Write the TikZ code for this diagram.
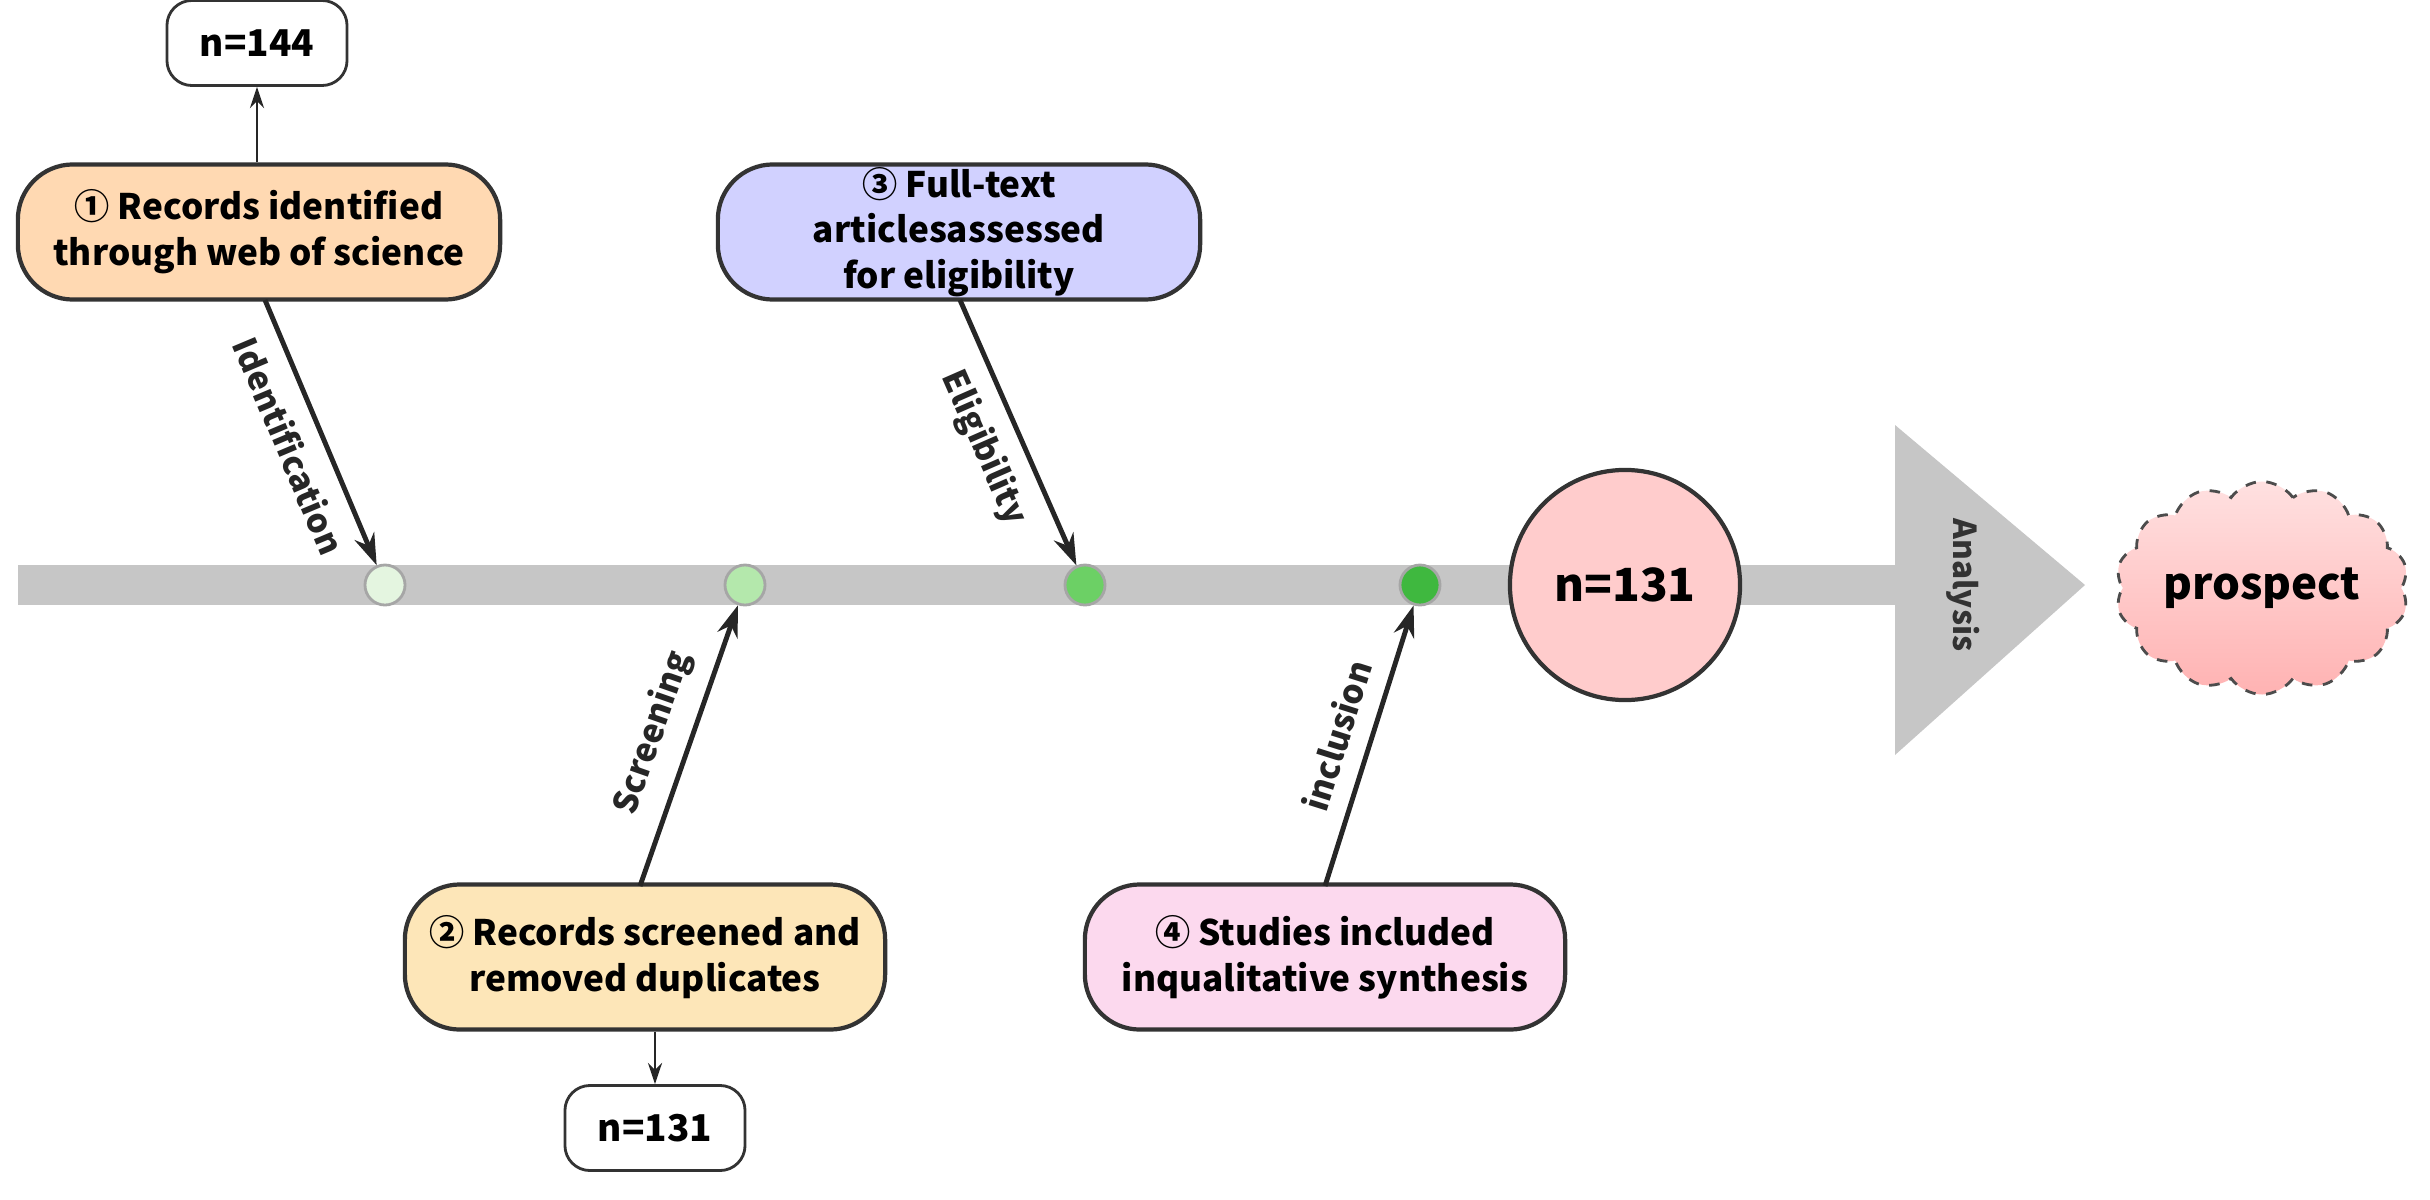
\documentclass[tikz,border=0pt]{standalone}
\usepackage{fontspec}
\setmainfont{Noto Sans CJK SC}
\usetikzlibrary{shapes.symbols,arrows.meta}
\definecolor{g1}{HTML}{E4F5E0}
\definecolor{g2}{HTML}{B4E8AC}
\definecolor{g3}{HTML}{6CD065}
\definecolor{g4}{HTML}{3FB83F}
\begin{document}
\begin{tikzpicture}[x=0.01cm,y=-0.01cm,
  box/.style={draw=black!80,line width=1.2pt,rounded corners=0.55cm,align=center,font=\fontsize{10}{13}\selectfont\bfseries,inner sep=0pt},
  nbox/.style={draw=black!80,line width=0.8pt,rounded corners=0.25cm,fill=white,font=\fontsize{10.5}{13}\selectfont\bfseries,minimum width=1.8cm,minimum height=0.85cm},
  dot/.style={circle,draw=gray!70,line width=0.8pt,minimum size=0.4cm,inner sep=0pt},
  arr/.style={-{Stealth[length=9pt,width=6pt]},line width=1.4pt,black!85},
  sarr/.style={-{Stealth[length=6pt,width=4pt]},line width=0.8pt,black!85},
  lab/.style={font=\fontsize{9.5}{11}\selectfont\bfseries,sloped,midway,inner sep=5pt}]
\useasboundingbox (0,0) rectangle (2430,1200);
% bar
\fill[gray!45] (18,565) rectangle (1905,605);
\fill[gray!45] (1895,425) -- (2085,585) -- (1895,755) -- cycle;
\node[rotate=-90,font=\fontsize{9}{11}\selectfont\bfseries,text=black!80] (an) at (1963,585) {Analysis};
% dots
\node[dot,fill=g1] (d1) at (385,585) {};
\node[dot,fill=g2] (d2) at (745,585) {};
\node[dot,fill=g3] (d3) at (1085,585) {};
\node[dot,fill=g4] (d4) at (1420,585) {};
% circle
\node[circle,draw=black!80,line width=1.2pt,fill=red!20,minimum size=2.3cm,font=\fontsize{13}{16}\selectfont\bfseries] (c) at (1625,585) {n=131};
% cloud
\node[cloud,cloud puffs=14,cloud puff arc=110,aspect=1.5,draw=black!70,dashed,line width=0.8pt,top color=red!12,bottom color=red!30,minimum width=2.3cm,minimum height=1.55cm,inner sep=0pt,font=\fontsize{12.5}{15}\selectfont\bfseries] (p) at (2262,588) {prospect};
% boxes
\node[box,fill=orange!30,minimum width=4.82cm,minimum height=1.35cm] (b1) at (259,232) {① Records identified\\through web of science};
\node[box,fill=blue!18,minimum width=4.82cm,minimum height=1.35cm] (b3) at (959,232) {③ Full-text\\articlesassessed\\for eligibility};
\node[box,fill=yellow!30!orange!25,minimum width=4.8cm,minimum height=1.45cm] (b2) at (645,957) {② Records screened and\\removed duplicates};
\node[box,fill=magenta!15,minimum width=4.8cm,minimum height=1.45cm] (b4) at (1325,957) {④ Studies included\\inqualitative synthesis};
\node[nbox] (n1) at (257,43) {n=144};
\node[nbox] (n2) at (655,1128) {n=131};
% arrows
\draw[sarr] (b1.north -| n1) -- (n1.south);
\draw[sarr] (b2.south -| n2) -- (n2.north);
\coordinate (a1) at (265,300);
\draw[arr] (a1) -- (d1) node[lab,below] {Identification};
\coordinate (a3) at (960,300);
\draw[arr] (a3) -- (d3) node[lab,below] {Eligibility};
\coordinate (a2) at (640,886);
\draw[arr] (a2) -- (d2) node[lab,above] {Screening};
\coordinate (a4) at (1325,886);
\draw[arr] (a4) -- (d4) node[lab,above] {inclusion};
\end{tikzpicture}
\end{document}
